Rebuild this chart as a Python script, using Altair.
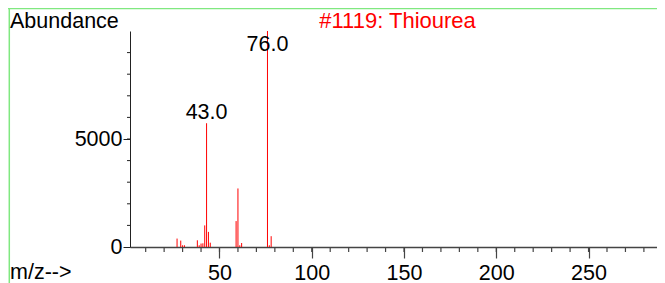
import altair as alt
import pandas as pd

# m/z values and abundances
mz = [27, 29, 30, 31, 38, 39, 40, 41, 42, 43, 44, 45, 59, 60, 61, 62, 76, 77, 78]
abundance = [390, 297, 80, 80, 310, 80, 160, 170, 1000, 5730, 700, 200,
             1200, 2710, 80, 185, 9999, 80, 500]

peak_mz = [43, 76]
peak_text = ["43.0", "76.0"]

title_text = "#1119: Thiourea"
y_title = "Abundance"
x_title = "m/z-->"

x_major = [50, 100, 150, 200, 250]
x_minor = list(range(10, 290, 10))
y_major = [0, 5000]
y_minor = list(range(1000, 10000, 1000))

FONT = "Liberation Sans"
FS = 21.5

df = pd.DataFrame({"mz": mz, "abundance": abundance})
lab = pd.DataFrame({"mz": peak_mz, "text": peak_text,
                    "abundance": [abundance[mz.index(m)] for m in peak_mz]})
xminor_df = pd.DataFrame({"mz": x_minor})
yminor_df = pd.DataFrame({"abundance": y_minor})
one = pd.DataFrame({"a": [0]})

W, H = 527, 216

xscale = alt.Scale(domain=[1.5, 287.1], nice=False, zero=False)
yscale = alt.Scale(domain=[0, 10000], nice=False)

xaxis = alt.Axis(
    values=x_major, format="d", title=None, grid=False, labelOverlap=False,
    tickSize=11, labelFont=FONT, labelFontSize=FS, labelColor="black", labelPadding=4,
    labelFlush=False, domainColor="#444", domainWidth=1.5, tickColor="#444", tickWidth=1.2,
)
yaxis = alt.Axis(
    values=y_major, format="d", title=None, grid=False, labelOverlap=False,
    tickSize=7, labelFont=FONT, labelFontSize=FS, labelColor="black", labelPadding=1,
    labelFlush=False, domainColor="#222", tickColor="#222",
)

bars = alt.Chart(df).mark_rule(color="#ff0000", strokeWidth=1).encode(
    x=alt.X("mz:Q", scale=xscale, axis=xaxis),
    y=alt.Y("abundance:Q", scale=yscale, axis=yaxis),
    y2=alt.datum(0),
)

xminor = alt.Chart(xminor_df).mark_rule(color="#444", strokeWidth=1.2).encode(
    x=alt.X("mz:Q", scale=xscale, axis=xaxis),
    y=alt.value(H), y2=alt.value(H + 5),
)
yminor = alt.Chart(yminor_df).mark_rule(color="#222", strokeWidth=1).encode(
    y=alt.Y("abundance:Q", scale=yscale, axis=yaxis),
    x=alt.value(-3), x2=alt.value(0),
)

lab43 = alt.Chart(lab).transform_filter("datum.mz == 43").mark_text(
    font=FONT, fontSize=FS, color="black", baseline="alphabetic", align="center", dy=-4
).encode(x=alt.X("mz:Q", scale=xscale, axis=xaxis),
         y=alt.Y("abundance:Q", scale=yscale, axis=yaxis), text="text:N")

lab76 = alt.Chart(lab).transform_filter("datum.mz == 76").mark_text(
    font=FONT, fontSize=FS, color="black", baseline="alphabetic", align="center", dy=20
).encode(x=alt.X("mz:Q", scale=xscale, axis=xaxis),
         y=alt.Y("abundance:Q", scale=yscale, axis=yaxis), text="text:N")

t_title = alt.Chart(one).mark_text(
    text=title_text, font=FONT, fontSize=22, color="#ff0000", align="center", baseline="alphabetic"
).encode(x=alt.value(267.5), y=alt.value(-3))

t_y = alt.Chart(one).mark_text(
    text=y_title, font=FONT, fontSize=FS, color="black", align="left", baseline="alphabetic"
).encode(x=alt.value(-120), y=alt.value(-3))

t_x = alt.Chart(one).mark_text(
    text=x_title, font=FONT, fontSize=FS, color="black", align="left", baseline="alphabetic"
).encode(x=alt.value(-120), y=alt.value(248))

green_top = alt.Chart(one).mark_rule(color="#80e880", strokeWidth=1.5).encode(
    x=alt.value(-122), x2=alt.value(W), y=alt.value(-22.5))
green_left = alt.Chart(one).mark_rule(color="#80e880", strokeWidth=1.5).encode(
    x=alt.value(-120.7), y=alt.value(-23), y2=alt.value(H + 36))

chart = alt.layer(green_top, green_left, xminor, yminor, bars, lab43, lab76,
                  t_title, t_y, t_x).properties(
    width=W, height=H,
    autosize=alt.AutoSizeParams(type="none"),
    padding={"left": 122, "top": 23, "right": 0, "bottom": 36},
).configure_view(stroke=None)

chart.save("out.html", embed_options={"renderer": "svg", "actions": False})
